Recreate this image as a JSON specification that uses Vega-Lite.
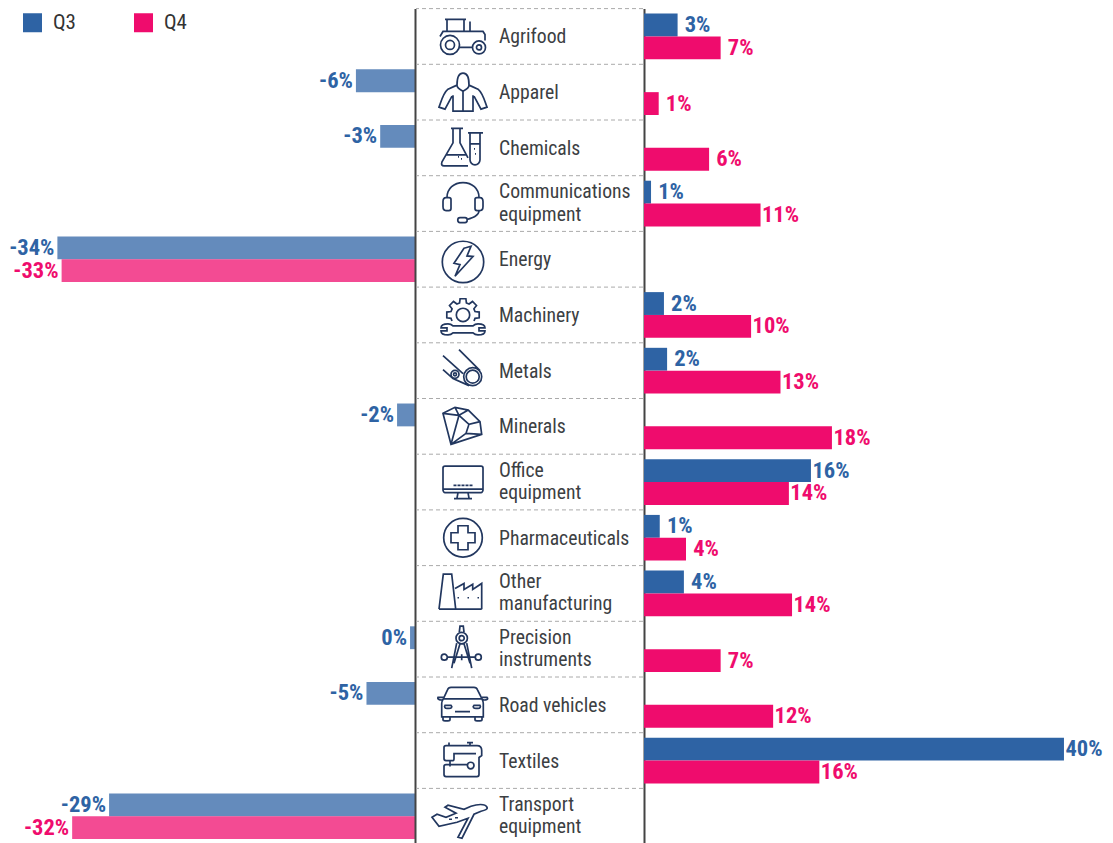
{"$schema":"https://vega.github.io/schema/vega-lite/v6.json","padding":0,"spacing":0,"background":"white","config":{"view":{"stroke":null},"concat":{"spacing":0}},
"datasets":{"bars":[
{"cat":"Agrifood","series":"Q3","value":3.2,"label":"3%"},{"cat":"Agrifood","series":"Q4","value":7.3,"label":"7%"},
{"cat":"Apparel","series":"Q3","value":-5.6,"label":"-6%"},{"cat":"Apparel","series":"Q4","value":1.4,"label":"1%"},
{"cat":"Chemicals","series":"Q3","value":-3.3,"label":"-3%"},{"cat":"Chemicals","series":"Q4","value":6.2,"label":"6%"},
{"cat":"Communications equipment","series":"Q3","value":0.67,"label":"1%"},{"cat":"Communications equipment","series":"Q4","value":11.1,"label":"11%"},
{"cat":"Energy","series":"Q3","value":-33.9,"label":"-34%"},{"cat":"Energy","series":"Q4","value":-33.5,"label":"-33%"},
{"cat":"Machinery","series":"Q3","value":1.9,"label":"2%"},{"cat":"Machinery","series":"Q4","value":10.2,"label":"10%"},
{"cat":"Metals","series":"Q3","value":2.2,"label":"2%"},{"cat":"Metals","series":"Q4","value":13.0,"label":"13%"},
{"cat":"Minerals","series":"Q3","value":-1.7,"label":"-2%"},{"cat":"Minerals","series":"Q4","value":17.9,"label":"18%"},
{"cat":"Office equipment","series":"Q3","value":15.9,"label":"16%"},{"cat":"Office equipment","series":"Q4","value":13.8,"label":"14%"},
{"cat":"Pharmaceuticals","series":"Q3","value":1.5,"label":"1%"},{"cat":"Pharmaceuticals","series":"Q4","value":4.0,"label":"4%"},
{"cat":"Other manufacturing","series":"Q3","value":3.8,"label":"4%"},{"cat":"Other manufacturing","series":"Q4","value":14.1,"label":"14%"},
{"cat":"Precision instruments","series":"Q3","value":-0.47,"label":"0%"},{"cat":"Precision instruments","series":"Q4","value":7.3,"label":"7%"},
{"cat":"Road vehicles","series":"Q3","value":-4.6,"label":"-5%"},{"cat":"Road vehicles","series":"Q4","value":12.3,"label":"12%"},
{"cat":"Textiles","series":"Q3","value":40,"label":"40%"},{"cat":"Textiles","series":"Q4","value":16.7,"label":"16%"},
{"cat":"Transport equipment","series":"Q3","value":-29.0,"label":"-29%"},{"cat":"Transport equipment","series":"Q4","value":-32.5,"label":"-32%"}
],"cats":[
{"cat":"Agrifood","name":"Agrifood"},{"cat":"Apparel","name":"Apparel"},{"cat":"Chemicals","name":"Chemicals"},{"cat":"Communications equipment","name":"Communications|equipment"},{"cat":"Energy","name":"Energy"},{"cat":"Machinery","name":"Machinery"},{"cat":"Metals","name":"Metals"},{"cat":"Minerals","name":"Minerals"},{"cat":"Office equipment","name":"Office|equipment"},{"cat":"Pharmaceuticals","name":"Pharmaceuticals"},{"cat":"Other manufacturing","name":"Other|manufacturing"},{"cat":"Precision instruments","name":"Precision|instruments"},{"cat":"Road vehicles","name":"Road vehicles"},{"cat":"Textiles","name":"Textiles"},{"cat":"Transport equipment","name":"Transport|equipment"}
]},
"hconcat":[
{"width":415,"height":843,"data":{"name":"bars"},"transform":[{"filter":"datum.value<0"}],
"encoding":{"y":{"field":"cat","type":"nominal","title":null,"scale":{"domain":["Agrifood","Apparel","Chemicals","Communications equipment","Energy","Machinery","Metals","Minerals","Office equipment","Pharmaceuticals","Other manufacturing","Precision instruments","Road vehicles","Textiles","Transport equipment"],"range":[8.6,844.1],"paddingInner":0.18,"paddingOuter":0.09},"axis":{"orient":"right","labels":false,"ticks":false,"title":null,"domainColor":"#444444","domainWidth":2,"zindex":1}},"yOffset":{"field":"series","type":"nominal","sort":["Q3","Q4"]},
"x":{"field":"value","type":"quantitative","axis":null,"scale":{"domain":[-39.34,0],"nice":false,"zero":false}},
"color":{"field":"series","type":"nominal","scale":{"domain":["Q3","Q4"],"range":["#2e63a4","#ef0c6d"]},"legend":{"orient":"none","legendX":22,"legendY":12,"direction":"horizontal","columns":2,"title":null,"symbolType":"square","symbolSize":361,"symbolStrokeWidth":0,"symbolOpacity":1,"labelOpacity":1,"labelFont":"Roboto Condensed, Liberation Sans","labelFontSize":21,"labelColor":"#333333","labelOffset":10,"columnPadding":57,"padding":0}}},
"layer":[{"mark":{"type":"bar","opacity":0.74}},{"mark":{"type":"text","align":"right","baseline":"middle","dx":-3,"font":"Roboto Condensed, Liberation Sans","fontWeight":"bold","fontSize":22.5},"encoding":{"text":{"field":"label"}}}]},
{"width":227,"height":843,"data":{"name":"cats"},
"encoding":{"y":{"field":"cat","type":"nominal","title":null,"axis":null,"scale":{"domain":["Agrifood","Apparel","Chemicals","Communications equipment","Energy","Machinery","Metals","Minerals","Office equipment","Pharmaceuticals","Other manufacturing","Precision instruments","Road vehicles","Textiles","Transport equipment"],"range":[8.6,844.1],"paddingInner":0,"paddingOuter":0}}},
"layer":[
{"mark":{"type":"rule","stroke":"#aaaaaa","strokeWidth":1,"strokeDash":[4,3]},"encoding":{"y":{"field":"cat","type":"nominal","bandPosition":0,"title":null,"axis":null}}},
{"transform":[{"filter":"!test(/[|]/, datum.name)"}],"mark":{"type":"text","align":"left","baseline":"middle","dy":1,"font":"Roboto Condensed, Liberation Sans","fontSize":19.7,"fill":"#3c4043"},"encoding":{"x":{"value":83},"text":{"field":"name"}}},
{"transform":[{"filter":"test(/[|]/, datum.name)"}],"mark":{"type":"text","align":"left","baseline":"middle","dy":-11.5,"font":"Roboto Condensed, Liberation Sans","fontSize":19.7,"fill":"#3c4043","lineBreak":"|","lineHeight":22.5},"encoding":{"x":{"value":83},"text":{"field":"name"}}},
{"mark":{"type":"point","filled":false,"stroke":"#22375f","strokeWidth":1.7,"opacity":1,"size":4},"encoding":{"x":{"value":47},"shape":{"field":"cat","type":"nominal","legend":null,"scale":{"domain":["Agrifood","Apparel","Chemicals","Communications equipment","Energy","Machinery","Metals","Minerals","Office equipment","Pharmaceuticals","Other manufacturing","Precision instruments","Road vehicles","Textiles","Transport equipment"],"range":[
"M-16,-5V-17H1V-5M-18,-17H3M-23,0L-20,-5H20L22,-2V4M7,-15V-5M-3.5,11H9.5M-3.5,8.5A9.5,9.5 0 1,1 -22.5,8.5A9.5,9.5 0 1,1 -3.5,8.5ZM-8.5,8.5A4.5,4.5 0 1,1 -17.5,8.5A4.5,4.5 0 1,1 -8.5,8.5ZM22.5,11A6.5,6.5 0 1,1 9.5,11A6.5,6.5 0 1,1 22.5,11ZM18.5,11A2.5,2.5 0 1,1 13.5,11A2.5,2.5 0 1,1 18.5,11Z",
"M-6,-7C-6,-14 -5,-19 0,-19C5,-19 6,-14 6,-7C6,-4 2,-2 0,-1C-2,-2 -6,-4 -6,-7ZM0,-1V19M-6,-7L-15,-3C-20,1 -22,10 -24,15L-18,17L-11,4M-10,3V19H10V3M6,-7L15,-3C20,1 22,10 24,15L18,17L11,4",
"M-12,-19.5H0M-10,-19.5V-5L-21,14C-22,17 -21,18 -19,18H5M-3,-19.5V-5L5,10M-17,7H3M5,-15H20M7,-15V12A5,5 0 0,0 17,12V-15M7,-4H17M-5,9h1M-2,11h1M11,1h1M12,6h1",
"M-16,-6C-16,-15 -9,-21 0,-21C9,-21 16,-15 16,-6M-17,-6H-14C-13,-6 -12,-5 -12,-4V5C-12,6 -13,7 -14,7H-17C-19,7 -20,5 -20,3V-2C-20,-4 -19,-6 -17,-6ZM17,-6H14C13,-6 12,-5 12,-4V5C12,6 13,7 14,7H17C19,7 20,5 20,3V-2C20,-4 19,-6 17,-6ZM16,7C16,12 10,14 4,16M-3,14H2C5,14 5,19 2,19H-3C-6,19 -6,14 -3,14Z",
"M20.7,2.7A20.7,20.7 0 1,1 -20.7,2.7A20.7,20.7 0 1,1 20.7,2.7ZM1,-11L8,-13L4,-3.3L10,-2.7L-8,17L-3,5.3L-9,4Z",
"M-11,6L-12,3.4L-16.2,2.9V-2.9L-12,-3.4L-10.9,-6.1L-13.5,-9.5L-9.5,-13.5L-6.1,-10.9L-3.4,-12L-2.9,-16.2H2.9L3.4,-12L6.1,-10.9L9.5,-13.5L13.5,-9.5L10.9,-6.1L12,-3.4L16.2,-2.9V2.9L12,3.4L11,6M6.7,0A6.7,6.7 0 1,1 -6.7,0A6.7,6.7 0 1,1 6.7,0ZM-15,9C-19,9 -22,10.5 -22,13H-16V16H-22C-22,18.5 -19,20 -15,20C-13,20 -11,19 -10,18H10C11,19 13,20 15,20C19,20 22,18.5 22,16H16V13H22C22,10.5 19,9 15,9C13,9 11,10 10,11H-10C-11,10 -13,9 -15,9Z",
"M-4,-21L17,0M-20,-15L0,3M-20,-1L-10,8L6,15M18.7,6A9,9 0 1,1 0.7,6A9,9 0 1,1 18.7,6ZM16.2,6A6.5,6.5 0 1,1 3.2,6A6.5,6.5 0 1,1 16.2,6ZM-4,3.7A4,4 0 1,1 -12,3.7A4,4 0 1,1 -4,3.7ZM-6.5,3.7A1.5,1.5 0 1,1 -9.5,3.7A1.5,1.5 0 1,1 -6.5,3.7Z",
"M-20,-13L-8,-19L5.3,-16.3L17,-4.7L18.7,8L-12,18ZM-20,-13L-4,-11L-8,-19M-4,-11L5.3,-16.3M-4,-11L6,-2L17,-4.7M6,-2L3,7L18.7,8M3,7L-12,18M-4,-11L-12,18",
"M-18,-16H18C19,-16 20,-15 20,-14V8C20,9 19,10.5 18,10.5H-18C-19,10.5 -20,9 -20,8V-14C-20,-15 -19,-16 -18,-16ZM-20,7H20M-5,10.5L-6,16M5,10.5L6,16M-9,16.5H9M-9.5,3.3h3M-5.5,3.3h3M-1.5,3.3h3M2.5,3.3h3M6.5,3.3h3",
"M19.3,0A19.3,19.3 0 1,1 -19.3,0A19.3,19.3 0 1,1 19.3,0ZM-5,-12H5V-5H12V5H5V12H-5V5H-12V-5H-5Z",
"M-24,15.7L-19.7,-19.3H-11.3L-7.3,15.7M-24,15.7H18.7M-8,-5L1,-10V-4L9.7,-9.3V-4L18.7,-10V15.7M-5.5,4.3h1.5M4.5,4.3h1.5M14.5,4.3h1.5",
"M4.4,-11A5.7,5.7 0 1,1 -7,-11A5.7,5.7 0 1,1 4.4,-11ZM1.2,-11A2.5,2.5 0 1,1 -3.8,-11A2.5,2.5 0 1,1 1.2,-11ZM-3.7,-17L-3,-23H0.3L1,-17M-6.3,-6L-11.3,19M3.7,-6L8.7,19M-3,-5.5L-9,14M1,-5.5L7,14M-15.7,8H12.3M-1.3,5V11M-15.7,8A3,3 0 1,1 -21.7,8A3,3 0 1,1 -15.7,8ZM18.3,8A3,3 0 1,1 12.3,8A3,3 0 1,1 18.3,8Z",
"M-19.7,-6L-15.5,-15C-15,-16.5 -14,-17.5 -12,-17.5H11C13,-17.5 14,-16.5 14.5,-15L19,-6M-19.7,-6H19M-19.7,-6C-21,-4 -21.3,-3 -21.3,-1V12H20.3V-1C20.3,-3 20,-4 19,-6M-19.5,-7.5H-25C-26,-5.5 -23,-4.5 -20.5,-5M19,-7.5H24C26,-5.5 23,-4.5 20,-5M-18,0.5H-12C-10,2.5 -12,3.5 -14,3.5H-16C-18,3.5 -19,2 -18,0.5ZM17,0.5H11C9,2.5 11,3.5 13,3.5H15C17,3.5 18,2 17,0.5ZM-8,6.7H7M-20,12V15C-20,16 -19,16 -18,16H-15C-14,16 -13,16 -13,15V12M19,12V15C19,16 18,16 17,16H14C13,16 12,16 12,15V12",
"M-17,-15H14C17,-15 18.7,-13 18.7,-10V-5L16,-3V14C16,15 15,16 14,16H-17C-18,16 -19,15 -19,14V6C-19,5 -18,4 -17,4H5M-17,-15C-18,-15 -19,-14 -19,-13V-2C-19,-1 -18,0 -17,0H-10C-9,0 -9,-1 -9,-2V-7H13M-13,0V6M-14,-15V-18M7,-15V-18M4,-18H10M11,5A3.3,3.3 0 1,1 4.4,5A3.3,3.3 0 1,1 11,5Z",
"M24,-9C22,-13 14,-12 8,-10L1,-7L-15,-11L-18,-9L-7,-3L-17,1L-26,-2L-31,1L-24,10L-6,6L5,2L-5,21L-1,22L11,-2L18,-5C22,-6 25,-7 24,-9ZM-14,3H-11M-8,1.5H-5"
]}}}}
]},
{"width":469,"height":843,"data":{"name":"bars"},"transform":[{"filter":"datum.value>0"}],
"encoding":{"y":{"field":"cat","type":"nominal","title":null,"scale":{"domain":["Agrifood","Apparel","Chemicals","Communications equipment","Energy","Machinery","Metals","Minerals","Office equipment","Pharmaceuticals","Other manufacturing","Precision instruments","Road vehicles","Textiles","Transport equipment"],"range":[8.6,844.1],"paddingInner":0.18,"paddingOuter":0.09},"axis":{"orient":"left","labels":false,"ticks":false,"title":null,"domainColor":"#444444","domainWidth":2,"zindex":0}},"yOffset":{"field":"series","type":"nominal","sort":["Q3","Q4"]},
"x":{"field":"value","type":"quantitative","axis":null,"scale":{"domain":[0,44.67],"nice":false,"zero":false}},
"color":{"field":"series","type":"nominal","scale":{"domain":["Q3","Q4"],"range":["#2e63a4","#ef0c6d"]},"legend":null}},
"layer":[{"mark":{"type":"bar"}},{"mark":{"type":"text","align":"center","baseline":"middle","dx":20,"font":"Roboto Condensed, Liberation Sans","fontWeight":"bold","fontSize":22.5},"encoding":{"text":{"field":"label"}}}]}
]}
